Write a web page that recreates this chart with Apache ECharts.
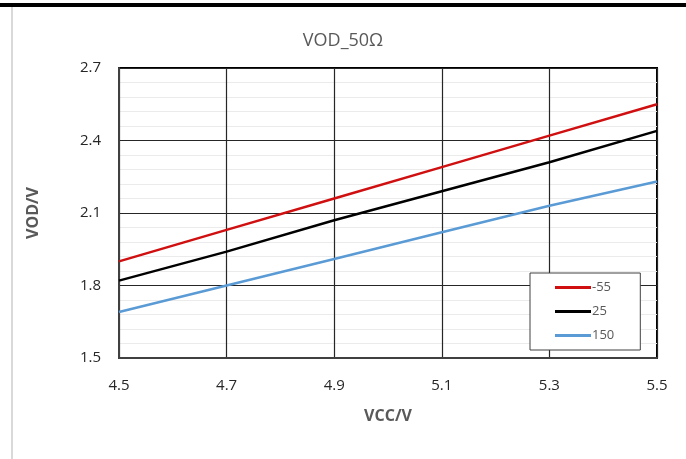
<!DOCTYPE html>
<html>
<head>
<meta charset="utf-8">
<script src="https://cdn.jsdelivr.net/npm/echarts@6/dist/echarts.min.js"></script>
<style>
    html, body { margin: 0; padding: 0; background: #fff; }
    #chart { width: 686px; height: 459px; }
</style>
</head>
<body>
<div id="chart"></div>
<script>
    // VCC sweep points and the three temperature curves
    let vcc = [4.5, 4.7, 4.9, 5.1, 5.3, 5.5];
    let temps = ['-55', '25', '150'];
    let vod_m55 = [1.90, 2.03, 2.16, 2.29, 2.42, 2.55];
    let vod_25 = [1.82, 1.94, 2.07, 2.19, 2.31, 2.44];
    let vod_150 = [1.69, 1.80, 1.91, 2.02, 2.13, 2.23];

    let chart = echarts.init(document.getElementById('chart'));
    let font = 'Open Sans, Liberation Sans, sans-serif';
    let colors = ['#d01010', '#000000', '#5b9bd5'];
    let values = [vod_m55, vod_25, vod_150];

    chart.setOption({
        animation: false,
        textStyle: { fontFamily: font },
        title: {
            text: 'VOD_50Ω',
            left: 'center',
            top: 27,
            textStyle: { color: '#595959', fontSize: 18, fontWeight: 'normal', fontFamily: font }
        },
        graphic: [
            { type: 'rect', shape: { x: 0, y: 3, width: 686, height: 4 }, style: { fill: '#000' } },
            { type: 'rect', shape: { x: 11, y: 7, width: 2, height: 452 }, style: { fill: '#d9d9d9' } }
        ],
        grid: {
            left: 119, right: 29, top: 68, bottom: 101,
            show: true,
            borderColor: '#000',
            borderWidth: 2
        },
        legend: {
            orient: 'vertical',
            left: 530,
            top: 273,
            padding: [8, 26, 8, 25],
            itemGap: 11,
            itemWidth: 36,
            itemHeight: 3,
            icon: 'rect',
            borderColor: '#404040',
            borderWidth: 1,
            backgroundColor: '#fff',
            data: temps,
            textStyle: { color: '#595959', fontSize: 13, padding: [0, 0, 0, -4] }
        },
        xAxis: {
            type: 'value',
            min: 4.5, max: 5.5, interval: 0.2,
            name: 'VCC/V',
            nameLocation: 'middle',
            nameGap: 50,
            nameTextStyle: { color: '#595959', fontSize: 16, fontWeight: 'bold' },
            axisLine: { show: true, lineStyle: { color: '#404040', width: 2 } },
            axisTick: { show: false },
            axisLabel: { color: '#262626', fontSize: 15, margin: 20, formatter: v => v.toFixed(1) },
            splitLine: { show: true, lineStyle: { color: '#262626', width: 1.2 } }
        },
        yAxis: {
            type: 'value',
            min: 1.5, max: 2.7, interval: 0.3,
            name: 'VOD/V',
            nameLocation: 'middle',
            nameGap: 78,
            nameTextStyle: { color: '#595959', fontSize: 16, fontWeight: 'bold' },
            axisLine: { show: true, lineStyle: { color: '#404040', width: 2 } },
            axisTick: { show: false },
            axisLabel: { color: '#262626', fontSize: 15, margin: 18, formatter: v => v.toFixed(1) },
            splitLine: { show: true, lineStyle: { color: '#262626', width: 1.2 } },
            minorTick: { show: false, splitNumber: 5 },
            minorSplitLine: { show: true, lineStyle: { color: '#ebebeb', width: 1 } }
        },
        series: temps.map((t, i) => {
            return {
                name: t,
                type: 'line',
                showSymbol: false,
                symbol: 'none',
                lineStyle: { color: colors[i], width: 2.5 },
                itemStyle: { color: colors[i] },
                data: vcc.map((x, j) => [x, values[i][j]])
            }
        })
    });
</script>
</body>
</html>
